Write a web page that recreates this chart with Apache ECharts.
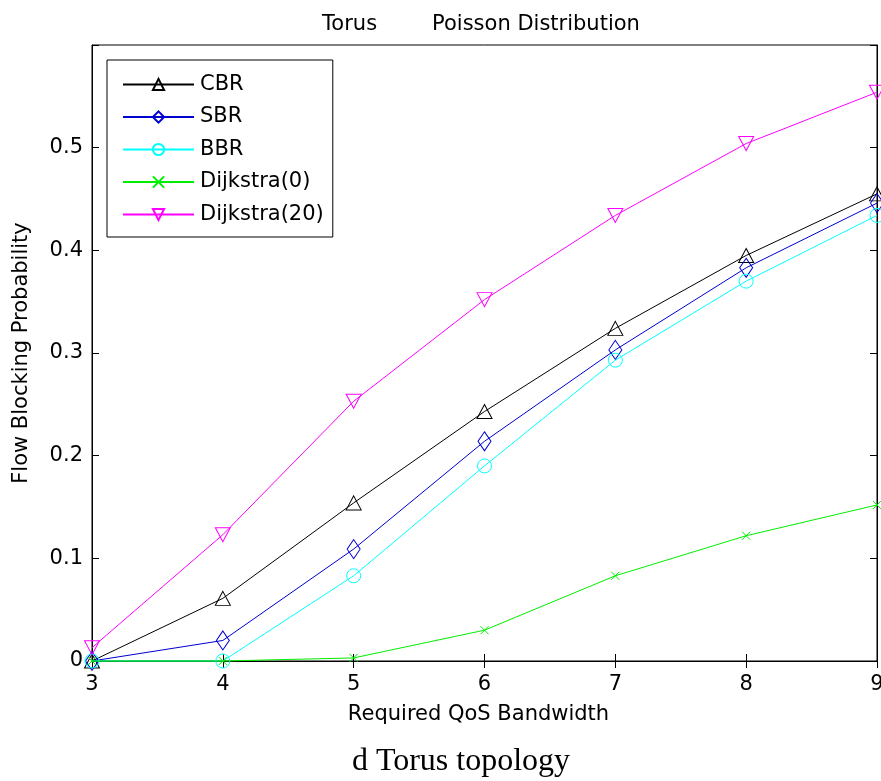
<!DOCTYPE html>
<html>
<head>
<meta charset="utf-8">
<script src="https://cdn.jsdelivr.net/npm/echarts@6/dist/echarts.min.js"></script>
<style>
html,body{margin:0;padding:0;background:#fff;overflow:hidden;}
#c{width:881px;height:781px;}
</style>
</head>
<body>
<div id="c"></div>
<script>
var xValues = [3, 4, 5, 6, 7, 8, 9];
var cbr = [0, 0.061, 0.154, 0.243, 0.324, 0.395, 0.455];
var sbr = [0, 0.020, 0.109, 0.214, 0.303, 0.383, 0.446];
var bbr = [0, 0, 0.083, 0.190, 0.293, 0.370, 0.434];
var dijkstra0 = [0, 0, 0.003, 0.030, 0.083, 0.122, 0.152];
var dijkstra20 = [0.013, 0.123, 0.253, 0.352, 0.434, 0.504, 0.554];
var seriesNames = ['CBR', 'SBR', 'BBR', 'Dijkstra(0)', 'Dijkstra(20)'];
var yTicks = [0, 0.1, 0.2, 0.3, 0.4, 0.5];

var FONT = 'DejaVu Sans';
var FS = 21;
var chart = echarts.init(document.getElementById('c'), null, {renderer: 'canvas'});

function pairs(vals) { return xValues.map(function (x, i) { return [x, vals[i]]; }); }

var styles = [
  {color: '#000000', symbol: 'triangle', size: [15, 14], rotate: 0},
  {color: '#0000d0', symbol: 'diamond', size: [13, 19], rotate: 0},
  {color: '#00ffff', symbol: 'circle', size: 14, rotate: 0},
  {color: '#00ee00', symbol: 'path://M0 0L10 10M10 0L0 10', size: 8, rotate: 0},
  {color: '#ff00ff', symbol: 'triangle', size: [15, 14], rotate: 180}
];
var datasets = [cbr, sbr, bbr, dijkstra0, dijkstra20];

var series = datasets.map(function (d, i) {
  var s = styles[i];
  return {
    name: seriesNames[i],
    type: 'line',
    data: pairs(d),
    symbol: s.symbol,
    symbolSize: s.size,
    symbolRotate: s.rotate,
    showAllSymbol: true,
    clip: false,
    lineStyle: {color: s.color, width: 1},
    itemStyle: {color: 'rgba(0,0,0,0)', borderColor: s.color, borderWidth: 1},
    emphasis: {disabled: true},
    animation: false,
    z: 2 + i
  };
});

var axisCommon = {
  type: 'value',
  axisLine: {show: true, lineStyle: {color: '#000', width: 1}},
  axisTick: {show: true, inside: true, length: 7, lineStyle: {color: '#000'}},
  splitLine: {show: false}
};

chart.setOption({
  backgroundColor: '#fff',
  animation: false,
  title: {
    text: '{a|Torus}{g|}{b|Poisson Distribution}',
    left: 476, top: 9, textAlign: 'center',
    textStyle: {
      rich: {
        a: {fontFamily: FONT, fontSize: FS, fontWeight: 'normal', color: '#000'},
        g: {width: 55},
        b: {fontFamily: FONT, fontSize: FS, fontWeight: 'normal', color: '#000'}
      }
    }
  },
  grid: {left: 92, right: 4, top: 45, bottom: 120, containLabel: false, outerBoundsMode: 'none',
         show: true, borderColor: '#000', borderWidth: 1, backgroundColor: '#fff'},
  legend: {
    orient: 'vertical',
    left: 107, top: 60,
    data: seriesNames,
    itemWidth: 71, itemHeight: 14, itemGap: 11.5,
    padding: [14, 9, 12, 15],
    backgroundColor: '#fff',
    borderColor: '#000', borderWidth: 1, borderRadius: 0,
    textStyle: {fontFamily: FONT, fontSize: FS, color: '#000', padding: [0, 0, 0, 1]},
    selectedMode: false
  },
  xAxis: [
    Object.assign({}, axisCommon, {
      min: 3, max: 9, interval: 1, position: 'bottom',
      name: 'Required QoS Bandwidth', nameLocation: 'middle', nameGap: 43,
      nameTextStyle: {fontFamily: FONT, fontSize: FS, color: '#000', padding: [0, 12, 0, 0]},
      axisLabel: {fontFamily: FONT, fontSize: FS, color: '#000', margin: 13}
    }),
    Object.assign({}, axisCommon, {
      min: 3, max: 9, interval: 1, position: 'top',
      axisLabel: {show: false}
    })
  ],
  yAxis: [
    Object.assign({}, axisCommon, {
      min: 0, max: 0.6, interval: 0.1, position: 'left',
      name: 'Flow Blocking Probability', nameLocation: 'middle', nameGap: 59.5,
      nameTextStyle: {fontFamily: FONT, fontSize: FS, color: '#000'},
      axisLabel: {
        fontFamily: FONT, fontSize: FS, color: '#000', margin: 9,
        formatter: function (v) {
          var r = Math.round(v * 10) / 10;
          if (yTicks.indexOf(r) < 0) return '';
          return r === 0 ? '0' : String(r);
        }
      }
    }),
    Object.assign({}, axisCommon, {
      min: 0, max: 0.6, interval: 0.1, position: 'right',
      axisLabel: {show: false}
    })
  ],
  series: series,
  graphic: [{
    type: 'text',
    x: 461,
    y: 746,
    style: {text: 'd Torus topology', fontFamily: 'Liberation Serif', fontSize: 32, fill: '#000',
            align: 'center', verticalAlign: 'top'}
  }]
});
</script>
</body>
</html>
